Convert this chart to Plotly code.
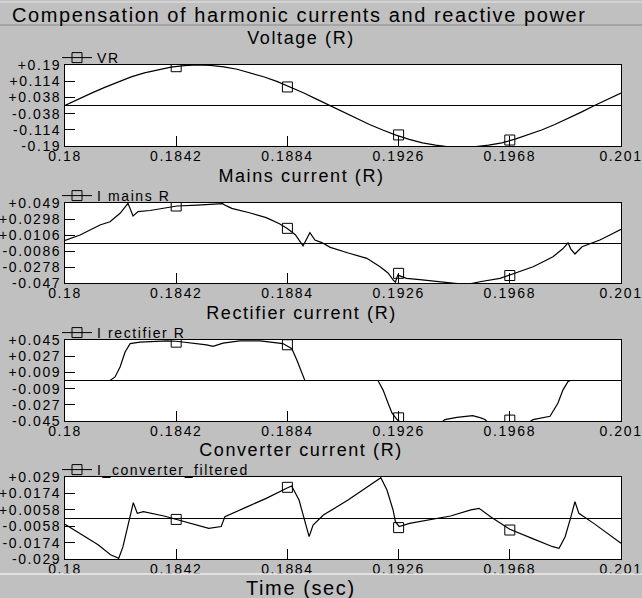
import plotly.graph_objects as go
from plotly.subplots import make_subplots

W, H = 642, 598

# x axis ticks (seconds)
x_ticks = [0.18, 0.1842, 0.1884, 0.1926, 0.1968, 0.201]
x_labels = ["0.18", "0.1842", "0.1884", "0.1926", "0.1968", "0.201"]
marker_t = [0.1842, 0.1884, 0.1926, 0.1968]

# Voltage (R)
t_volt = [0.1800, 0.1805, 0.1810, 0.1815, 0.1820, 0.1825, 0.1830, 0.1835, 0.1840, 0.1845,
          0.1850, 0.1855, 0.1860, 0.1865, 0.1870, 0.1875, 0.1880, 0.1885, 0.1890, 0.1895,
          0.1900, 0.1905, 0.1910, 0.1915, 0.1920, 0.1925, 0.1930, 0.1935, 0.1940, 0.1945,
          0.1950, 0.1955, 0.1960, 0.1965, 0.1970, 0.1975, 0.1980, 0.1985, 0.1990, 0.1995,
          0.2000, 0.2005, 0.2010]
v_r = [0.000, 0.030, 0.058, 0.085, 0.110, 0.134, 0.153, 0.168, 0.180, 0.187,
       0.190, 0.188, 0.181, 0.170, 0.154, 0.135, 0.113, 0.087, 0.060, 0.030,
       0.000, -0.031, -0.061, -0.089, -0.115, -0.139, -0.159, -0.175, -0.186, -0.194,
       -0.196, -0.193, -0.186, -0.175, -0.158, -0.138, -0.115, -0.089, -0.061, -0.031,
       0.000, 0.030, 0.058]
v_r_marks = [0.182, 0.087, -0.138, -0.162]
v_ticks = [0.19, 0.114, 0.038, -0.038, -0.114, -0.19]
v_labels = ["+0.19", "+0.114", "+0.038", "-0.038", "-0.114", "-0.19"]

# Mains current (R)
t_mains = [0.1800, 0.18057, 0.18132, 0.1817, 0.18208, 0.18238, 0.18257, 0.18276, 0.18321, 0.18423,
           0.1850, 0.18574, 0.18595, 0.1861, 0.1863, 0.1870, 0.1876, 0.1881, 0.18838, 0.1887,
           0.18899, 0.18925, 0.18944, 0.1897, 0.19002, 0.1907, 0.1914, 0.1919, 0.1922, 0.1924,
           0.19248, 0.19257, 0.1929, 0.1934, 0.1939, 0.1944, 0.1949, 0.1953, 0.19567, 0.19643,
           0.1968, 0.1972, 0.19768, 0.1981, 0.19843, 0.1988, 0.1990, 0.1991, 0.19926, 0.19953,
           0.2002, 0.2006, 0.2010]
i_mains = [0.004, 0.0106, 0.0226, 0.0265, 0.0366, 0.0486, 0.0334, 0.0386, 0.0400, 0.0454,
           0.0465, 0.0474, 0.0482, 0.0455, 0.0426, 0.0370, 0.0314, 0.0240, 0.0186, 0.0110,
           -0.0025, 0.0133, 0.0046, 0.0015, -0.0042, -0.0110, -0.0174, -0.0275, -0.0350, -0.0435,
           -0.0460, -0.0375, -0.0414, -0.0430, -0.0447, -0.0460, -0.0480, -0.0480, -0.0455, -0.0414,
           -0.0375, -0.0330, -0.0275, -0.0210, -0.0155, -0.0060, 0.0013, -0.0060, -0.0122, -0.0035,
           0.0046, 0.0110, 0.0174]
i_mains_marks = [0.0454, 0.0186, -0.0354, -0.038]
m_ticks = [0.049, 0.0298, 0.0106, -0.0086, -0.0278, -0.047]
m_labels = ["+0.049", "+0.0298", "+0.0106", "-0.0086", "-0.0278", "-0.047"]

# Rectifier current (R)
t_rect = [0.1800, 0.1817, 0.18189, 0.18208, 0.18227, 0.18246, 0.18283, 0.18385, 0.1842, 0.18483,
          0.18535, 0.18559, 0.18597, 0.1866, 0.18737, 0.18823, 0.18857, 0.18876, 0.18895, 0.18906,
          0.19182, 0.19201, 0.1922, 0.19235, 0.19254, 0.1927, 0.1942, 0.19435, 0.1948, 0.1954,
          0.1957, 0.19586, 0.1960, 0.1975, 0.19768, 0.19832, 0.19862, 0.19881, 0.1990, 0.1991,
          0.2010]
i_rect = [0.0, 0.0, 0.004, 0.015, 0.0316, 0.041, 0.0426, 0.0441, 0.0436, 0.0415,
          0.0395, 0.0379, 0.0415, 0.0441, 0.0441, 0.041, 0.0353, 0.0225, 0.0079, 0.0,
          0.0, -0.0104, -0.025, -0.036, -0.0434, -0.047, -0.047, -0.0434, -0.041, -0.039,
          -0.0415, -0.0434, -0.047, -0.047, -0.0434, -0.0397, -0.025, -0.0104, -0.001, 0.0,
          0.0]
i_rect_marks = [0.0426, 0.0397, -0.0415, -0.044]
r_ticks = [0.045, 0.027, 0.009, -0.009, -0.027, -0.045]
r_labels = ["+0.045", "+0.027", "+0.009", "-0.009", "-0.027", "-0.045"]

# Converter current (R)
t_conv = [0.1800, 0.18064, 0.18125, 0.18172, 0.18203, 0.18219, 0.18234, 0.18247, 0.18258, 0.18273,
          0.18296, 0.18374, 0.1842, 0.18497, 0.18543, 0.1859, 0.18604, 0.18683, 0.1876, 0.18837,
          0.18856, 0.18884, 0.18906, 0.18922, 0.18937, 0.18976, 0.19069, 0.19146, 0.19193, 0.19216,
          0.19239, 0.19248, 0.19262, 0.19301, 0.19394, 0.19456, 0.19533, 0.19564, 0.1961, 0.1968,
          0.19764, 0.19842, 0.19866, 0.19889, 0.19911, 0.19926, 0.19941, 0.19997, 0.2010]
i_conv = [-0.0045, -0.0120, -0.0190, -0.0260, -0.0285, -0.0203, -0.0085, 0.0010, 0.0108, 0.0033,
          0.0045, 0.0014, -0.0010, -0.0050, -0.0073, -0.0060, 0.0010, 0.0075, 0.0139, 0.0210,
          0.0226, 0.0127, -0.0014, -0.0132, -0.0050, 0.0021, 0.0127, 0.0222, 0.0285, 0.0198,
          0.0057, -0.0026, -0.0060, -0.0038, -0.0010, 0.0014, 0.0057, 0.0068, 0.0005, -0.0080,
          -0.0144, -0.0203, -0.0214, -0.0132, 0.0010, 0.0115, 0.0033, -0.0038, -0.0178]
i_conv_marks = [-0.001, 0.0217, -0.0068, -0.0085]
c_ticks = [0.029, 0.0174, 0.0058, -0.0058, -0.0174, -0.029]
c_labels = ["+0.029", "+0.0174", "+0.0058", "-0.0058", "-0.0174", "-0.029"]

panels = [
    ("Voltage (R)", "VR", t_volt, v_r, v_r_marks, v_ticks, v_labels, 65, 146),
    ("Mains current (R)", "I mains R", t_mains, i_mains, i_mains_marks, m_ticks, m_labels, 203, 283),
    ("Rectifier current (R)", "I rectifier R", t_rect, i_rect, i_rect_marks, r_ticks, r_labels, 340, 421),
    ("Converter current (R)", "I_converter_filtered", t_conv, i_conv, i_conv_marks, c_ticks, c_labels, 477, 559),
]

FONT = "Liberation Sans, Arial, sans-serif"


def py(px):
    return 1 - px / H


fig = make_subplots(rows=4, cols=1)
annotations = [dict(text="Compensation of harmonic currents and reactive power", x=10 / W, y=py(15),
                    xref="paper", yref="paper", xanchor="left", yanchor="middle", align="left",
                    showarrow=False, font=dict(size=20, color="black"))]
legends = {}
for k, (sub, name, t, vals, marks, yt, yl, top, bot) in enumerate(panels):
    row = k + 1
    leg = "legend" if k == 0 else "legend%d" % row
    fig.add_trace(go.Scatter(x=t, y=vals, mode="lines", line=dict(color="black", width=1.2),
                             showlegend=False, hoverinfo="skip"), row=row, col=1)
    fig.add_trace(go.Scatter(x=marker_t, y=marks, mode="markers", showlegend=False,
                             marker=dict(symbol="square-open", size=10, color="black", line=dict(width=1))),
                  row=row, col=1)
    fig.add_trace(go.Scatter(x=[None], y=[None], mode="lines+markers", name=name, legend=leg,
                             line=dict(color="black", width=1),
                             marker=dict(symbol="square-open", size=10, color="black")),
                  row=row, col=1)
    legends[leg] = dict(x=57 / W, xanchor="left", y=py(top - 7), yanchor="middle",
                        bgcolor="rgba(0,0,0,0)", borderwidth=0, itemwidth=30,
                        font=dict(size=14, color="black", family=FONT))
    annotations.append(dict(text=sub, x=301 / W, y=py(top - 27), xref="paper", yref="paper",
                            xanchor="center", yanchor="middle", showarrow=False,
                            font=dict(size=18, color="black")))
    fig.update_xaxes(row=row, col=1, domain=[65 / W, 621 / W], range=[0.18, 0.201], automargin=False,
                     tickvals=x_ticks, ticktext=x_labels, ticks="inside", ticklen=10, tickcolor="black",
                     ticklabelstandoff=-3,
                     showline=True, linecolor="black", linewidth=1, mirror=True, showgrid=False,
                     zeroline=False, tickfont=dict(size=14, color="black"))
    fig.update_yaxes(row=row, col=1, domain=[py(bot), py(top)], range=[yt[-1], yt[0]], automargin=False,
                     tickvals=yt, ticktext=yl, ticks="inside", ticklen=10, tickcolor="black",
                     showline=True, linecolor="black", linewidth=1, mirror=True, showgrid=False,
                     zeroline=True, zerolinecolor="black", zerolinewidth=1,
                     tickfont=dict(size=14, color="black"))

annotations.append(dict(text="Time (sec)", x=301 / W, y=py(588), xref="paper", yref="paper",
                        xanchor="center", yanchor="middle", showarrow=False,
                        font=dict(size=20, color="black")))

shapes = [
    dict(type="line", xref="paper", yref="paper", x0=0, x1=1, y0=py(2), y1=py(2), line=dict(color="#e6e6e6", width=1)),
    dict(type="line", xref="paper", yref="paper", x0=0, x1=1, y0=py(25), y1=py(25), line=dict(color="#8a8a8a", width=1)),
    dict(type="line", xref="paper", yref="paper", x0=0, x1=1, y0=py(574), y1=py(574), line=dict(color="#ececec", width=1.5)),
]

fig.update_layout(width=W, height=H, margin=dict(l=0, r=0, t=0, b=0, autoexpand=False),
                  paper_bgcolor="#c0c0c0", plot_bgcolor="white",
                  font=dict(family=FONT, color="black"),
                  annotations=annotations, shapes=shapes, **legends)

# page without body margin, and the wide letter spacing of the original screenshot
spacing = """
document.body.style.margin = '0';
document.body.style.overflow = 'hidden';
var gd = document.getElementById('{plot_id}');
function spread() {
  gd.querySelectorAll('text').forEach(function (t) { t.style.letterSpacing = '1.6px'; });
  gd.querySelectorAll('.scrollbox').forEach(function (s) {
    s.removeAttribute('clip-path');
    s.style.clipPath = 'none';
  });
}
spread();
gd.on('plotly_afterplot', spread);
"""
fig.write_html("out.html", post_script=spacing, config={"displayModeBar": False})
